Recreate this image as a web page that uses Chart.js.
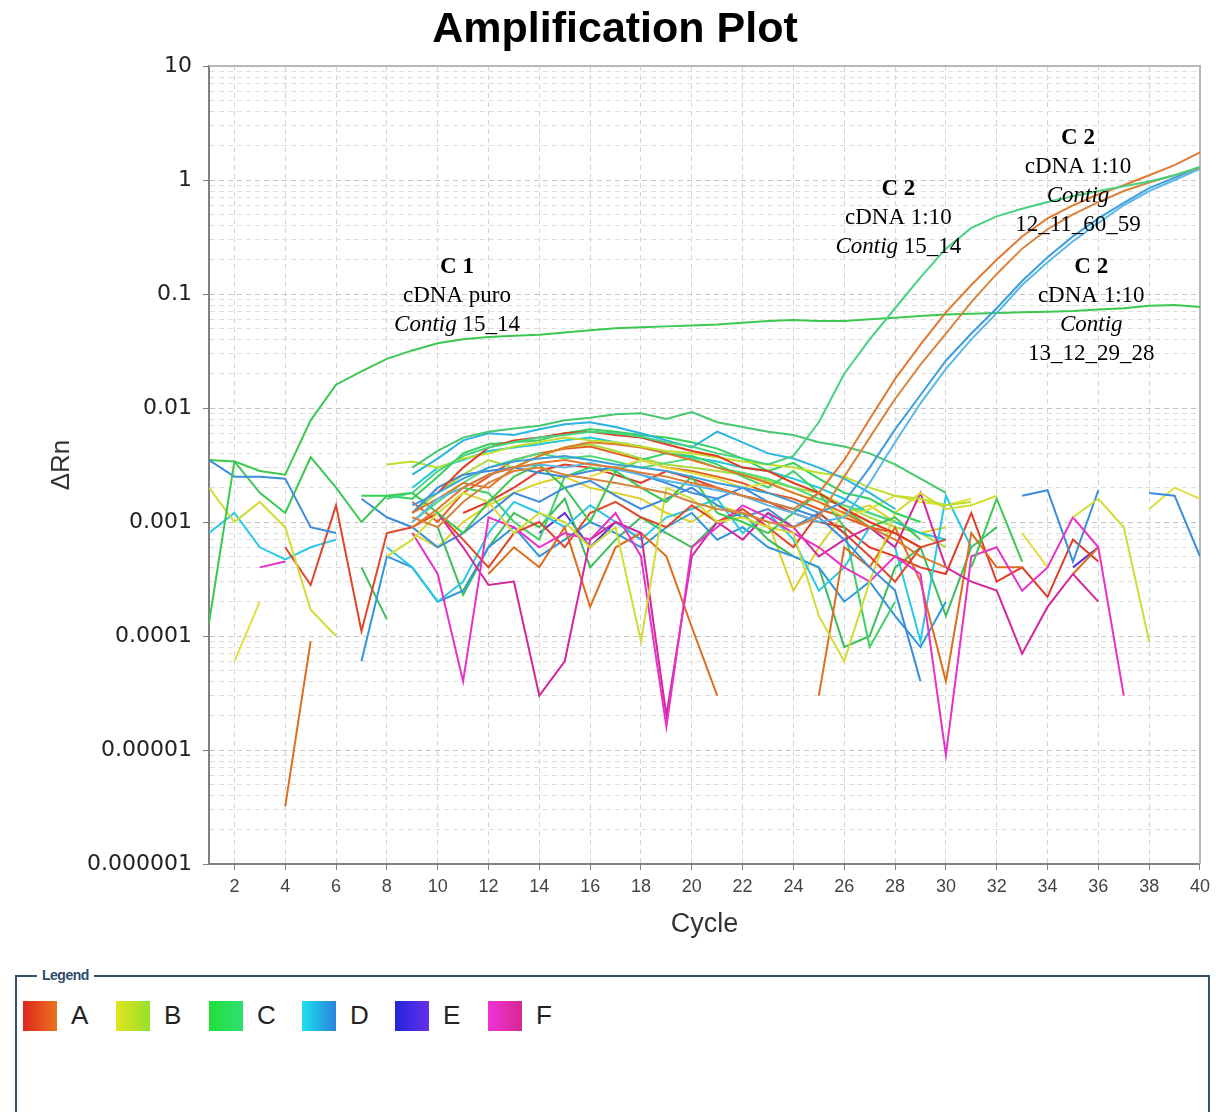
<!DOCTYPE html>
<html>
<head>
<meta charset="utf-8">
<script src="https://cdn.jsdelivr.net/npm/chart.js@4.4.1/dist/chart.umd.min.js"></script>
<style>
  body { margin: 0; background: #fff; width: 1216px; height: 1112px; position: relative; overflow: hidden; }
  #wrap { position: absolute; left: 0; top: 0; width: 1216px; height: 960px; }
  #legendBox { position: absolute; left: 15px; top: 975px; width: 1195px; height: 200px;
    border: 2px solid #34506a; border-bottom: none; box-sizing: border-box; }
  #legendBox .ttl { position: absolute; left: 20px; top: -10px; background: #fff; padding: 0 5px;
    font: bold 14px "Liberation Sans", Arial, sans-serif; color: #2c4c6c; letter-spacing: -0.5px; }
  .item { position: absolute; top: 24px; height: 30px; }
  .sw { position: absolute; left: 0; top: 0; width: 34px; height: 30px; }
  .lb { position: absolute; left: 48px; top: -1px; font: 26px "Liberation Sans", Arial, sans-serif; color: #222; }
</style>
</head>
<body>
<div id="wrap"><canvas id="myChart"></canvas></div>
<div id="legendBox"><span class="ttl">Legend</span></div>
<script>
const n = null;
const cycles = [1, 2, 3, 4, 5, 6, 7, 8, 9, 10, 11, 12, 13, 14, 15, 16, 17, 18, 19, 20,
  21, 22, 23, 24, 25, 26, 27, 28, 29, 30, 31, 32, 33, 34, 35, 36, 37, 38, 39, 40];
const xTicks = [2, 4, 6, 8, 10, 12, 14, 16, 18, 20, 22, 24, 26, 28, 30, 32, 34, 36, 38, 40];
const yTickValues = [0.000001, 0.00001, 0.0001, 0.001, 0.01, 0.1, 1, 10];
const yTickLabels = ['0.000001', '0.00001', '0.0001', '0.001', '0.01', '0.1', '1', '10'];
const groups = ['A', 'B', 'C', 'D', 'E', 'F'];

// amplified wells
const c1Puro = [
  0.00013, 0.0034, 0.0028, 0.0026, 0.0078, 0.016, 0.021, 0.027, 0.032, 0.037,
  0.040, 0.042, 0.043, 0.044, 0.046, 0.048, 0.050, 0.051, 0.052, 0.053,
  0.054, 0.056, 0.058, 0.059, 0.058, 0.058, 0.060, 0.062, 0.064, 0.066,
  0.067, 0.068, 0.069, 0.070, 0.071, 0.073, 0.075, 0.079, 0.080, 0.077];
const c2Contig1514 = [
  n, n, n, n, n, n, n, 0.0016, 0.0018, 0.0028,
  0.0038, 0.0045, 0.0050, 0.0055, 0.0058, 0.0062, 0.0060, 0.0056, 0.0050, 0.0046,
  0.0040, 0.0036, 0.0032, 0.0038, 0.0075, 0.020, 0.040, 0.075, 0.14, 0.25,
  0.38, 0.48, 0.56, 0.64, 0.72, 0.80, 0.88, 0.97, 1.10, 1.30];
const c2Contig1211a = [
  n, n, n, n, n, n, n, n, 0.0009, 0.0013,
  0.0020, 0.0026, 0.0030, 0.0033, 0.0035, 0.0032, 0.0030, 0.0027, 0.0025, 0.0022,
  0.0020, 0.0017, 0.0015, 0.0013, 0.0018, 0.0035, 0.0080, 0.018, 0.036, 0.069,
  0.12, 0.20, 0.32, 0.46, 0.60, 0.75, 0.90, 1.10, 1.35, 1.75];
const c2Contig1211b = [
  n, n, n, n, n, n, n, n, 0.0011, 0.0009,
  0.0015, 0.0022, 0.0028, 0.0030, 0.0026, 0.0024, 0.0022, 0.0020, 0.0018, 0.0015,
  0.0013, 0.0012, 0.0010, 0.0009, 0.0011, 0.0025, 0.0055, 0.012, 0.024, 0.045,
  0.085, 0.15, 0.25, 0.37, 0.50, 0.64, 0.80, 0.95, 1.10, 1.28];
const c2Contig1312a = [
  n, n, n, n, n, n, n, n, 0.0014, 0.0018,
  0.0024, 0.0030, 0.0034, 0.0036, 0.0038, 0.0035, 0.0032, 0.0030, 0.0028, 0.0025,
  0.0022, 0.0020, 0.0018, 0.0015, 0.0012, 0.0015, 0.0030, 0.0065, 0.013, 0.026,
  0.045, 0.075, 0.13, 0.21, 0.32, 0.46, 0.63, 0.85, 1.05, 1.30];
const c2Contig1312b = [
  n, n, n, n, n, n, n, n, 0.0010, 0.0016,
  0.0020, 0.0026, 0.0030, 0.0032, 0.0030, 0.0033, 0.0029, 0.0026, 0.0023, 0.0021,
  0.0019, 0.0017, 0.0014, 0.0012, 0.0010, 0.0011, 0.0022, 0.0050, 0.011, 0.022,
  0.040, 0.068, 0.12, 0.19, 0.29, 0.42, 0.60, 0.80, 1.00, 1.25];

// background wells (no amplification), gaps = values <= 0
const wellC1 = [
  n, n, n, n, n, n, n, n, 0.0030, 0.0042,
  0.0055, 0.0062, 0.0066, 0.0070, 0.0078, 0.0082, 0.0088, 0.0090, 0.0080, 0.0092,
  0.0075, 0.0068, 0.0062, 0.0058, 0.0050, 0.0046, 0.0040, 0.0032, 0.0024, 0.0018,
  n, n, n, n, n, n, n, n, n, n];
const wellD1 = [
  n, n, n, n, n, n, n, n, 0.0026, 0.0036,
  0.0052, 0.0060, 0.0058, 0.0065, 0.0072, 0.0075, 0.0068, 0.0060, 0.0052, 0.0045,
  0.0062, 0.0050, 0.0040, 0.0036, 0.0030, 0.0024, 0.0018, 0.0013, n, n,
  n, n, n, n, n, n, n, n, n, n];
const wellA1 = [
  n, n, n, n, n, n, n, n, n, 0.0018,
  0.0030, 0.0045, 0.0052, 0.0055, 0.0060, 0.0062, 0.0058, 0.0055, 0.0048, 0.0042,
  0.0038, 0.0030, 0.0028, 0.0022, 0.0018, 0.0013, 0.0010, 0.0008, 0.0006, n,
  n, n, n, n, n, n, n, n, n, n];
const wellB1 = [
  n, n, n, n, n, n, n, 0.0032, 0.0034, 0.0030,
  0.0036, 0.0040, 0.0046, 0.0050, 0.0055, 0.0052, 0.0050, 0.0046, 0.0042, 0.0040,
  0.0037, 0.0034, 0.0032, 0.0030, 0.0027, 0.0025, 0.0020, 0.0017, 0.0016, 0.0014,
  0.0015, n, n, n, n, n, n, n, n, n];
const wellC2 = [
  n, n, n, n, n, n, 0.0017, 0.0017, 0.0016, 0.0025,
  0.0040, 0.0048, 0.0050, 0.0052, 0.0060, 0.0065, 0.0062, 0.0058, 0.0055, 0.0050,
  0.0044, 0.0036, 0.0028, 0.0033, 0.0024, 0.0018, 0.0016, 0.0012, 0.0010, n,
  n, n, n, n, n, n, n, n, n, n];
const wellA2 = [
  n, n, n, n, n, n, n, n, 0.0012, 0.0016,
  0.0022, 0.0020, 0.0030, 0.0038, 0.0045, 0.0050, 0.0048, 0.0045, 0.0040, 0.0035,
  0.0030, 0.0026, 0.0022, 0.0018, 0.0015, 0.0012, 0.0009, 0.0007, 0.0005, 0.0004,
  n, n, n, n, n, n, n, n, n, n];
const wellD2 = [
  0.0035, 0.0025, 0.0025, 0.0024, 0.0009, 0.0008, n, n, 0.0012, 0.0020,
  0.0026, 0.0028, 0.0030, 0.0027, 0.0025, 0.0028, 0.0030, 0.0026, 0.0022, 0.0018,
  0.0016, 0.0020, 0.0015, 0.0013, 0.0011, 0.0007, 0.0004, 0.00025, 0.00004, n,
  n, n, n, n, n, n, n, n, n, n];
const wellC3 = [
  0.0035, 0.0034, 0.0018, 0.0012, 0.0037, 0.0020, 0.0010, 0.0017, 0.0018, 0.0012,
  0.0008, 0.0015, 0.0025, 0.0032, 0.0020, 0.0010, 0.0028, 0.0020, 0.0015, 0.0025,
  0.0012, 0.0010, 0.0008, 0.0012, 0.0018, 0.0013, 0.0009, 0.0011, 0.0007, n,
  0.0004, 0.0016, 0.00045, n, n, n, n, n, n, n];
const wellB2 = [
  0.0020, 0.0010, 0.0015, 0.0009, 0.00017, 0.0001, n, 0.0005, 0.0007, 0.0012,
  0.0018, 0.0015, 0.0008, 0.0012, 0.0010, 0.0006, 0.0009, 0.00009, 0.0020, 0.0016,
  0.0010, 0.0011, 0.0009, 0.0008, 0.00015, 0.00006, 0.0003, 0.0012, 0.0018, 0.0013,
  0.0014, 0.0017, n, n, 0.0011, 0.0016, 0.0009, 0.00009, n, n];
const wellF1 = [
  n, n, 0.0004, 0.00045, n, n, n, n, 0.0008, 0.00035,
  0.00004, 0.0011, 0.0009, 0.0006, 0.0008, 0.0007, 0.0012, 0.0005, 0.000016, 0.0006,
  0.0009, 0.0014, 0.0011, 0.0008, 0.0006, 0.0004, 0.0003, 0.0005, 0.00035, 0.000009,
  0.0005, 0.0006, 0.00025, 0.0004, 0.0011, 0.0006, 0.00003, n, n, n];
const wellF2 = [
  n, n, n, n, n, n, n, n, n, 0.0012,
  0.0006, 0.00028, 0.0003, 0.00003, 0.00006, 0.0007, 0.0010, 0.0008, 0.00002, 0.0005,
  0.0010, 0.0007, 0.0012, 0.0009, 0.0005, 0.0007, 0.0009, 0.0006, 0.0018, 0.0004,
  0.0003, 0.00025, 0.00007, 0.00018, 0.00035, 0.0002, n, n, n, n];
const wellA3 = [
  n, n, n, 0.0006, 0.00028, 0.0014, 0.00011, 0.0008, 0.0009, 0.0012,
  0.0007, 0.0004, 0.0008, 0.0010, 0.0006, 0.0012, 0.0015, 0.0011, 0.0009, 0.0014,
  0.0010, 0.0013, 0.0009, 0.0006, 0.0012, 0.0008, 0.0005, 0.0003, 0.0006, 0.0007,
  n, n, n, n, n, n, n, n, n, n];
const wellA4 = [
  n, n, n, 0.0000032, 0.00009, n, n, n, n, n,
  n, 0.00035, 0.0006, 0.0004, 0.0009, 0.00018, 0.0006, 0.0008, 0.0005, 0.00012,
  0.00003, n, n, n, 0.00003, 0.0006, 0.0004, 0.0009, 0.0003, 0.00004,
  0.0008, 0.0004, 0.0004, n, 0.00035, 0.0006, n, n, n, n];
const wellD3 = [
  0.0008, 0.0012, 0.0006, 0.00047, 0.0006, 0.0007, n, 0.0006, 0.0004, 0.0002,
  0.0003, 0.0008, 0.0015, 0.0012, 0.0009, 0.0014, 0.0010, 0.0007, 0.0011, 0.0013,
  0.0016, 0.0008, 0.0012, 0.0007, 0.00025, 0.0004, 0.0009, 0.0006, 0.00009, 0.0017,
  0.0006, n, n, n, n, n, n, n, n, n];
const wellD4 = [
  n, n, n, n, n, n, 0.0016, 0.0011, 0.0009, 0.0006,
  0.0008, 0.0012, 0.0018, 0.0015, 0.0020, 0.0023, 0.0017, 0.0013, 0.0016, 0.0020,
  0.0014, 0.0011, 0.0013, 0.0009, 0.0012, 0.0008, n, n, n, n,
  n, n, 0.0017, 0.0019, 0.00045, 0.0019, n, 0.0018, 0.0017, 0.0005];
const wellB3 = [
  n, 0.00006, 0.0002, n, n, n, n, n, n, n,
  n, n, n, n, n, 0.0025, 0.0030, 0.0035, 0.0030, 0.0027,
  0.0024, 0.0020, 0.0022, 0.0018, 0.0015, 0.0011, 0.0013, 0.0017, 0.0015, 0.0014,
  0.0016, n, 0.0008, 0.0004, n, n, n, 0.0013, 0.0020, 0.0016];
const wellC4 = [
  n, n, n, n, n, n, n, n, n, n,
  0.0020, 0.0018, 0.0010, 0.0007, 0.0025, 0.0030, 0.0028, 0.0035, 0.0040, 0.0038,
  0.0032, 0.0025, 0.0020, 0.0028, 0.0018, 0.0009, 0.00008, 0.0002, n, n,
  n, n, n, n, n, n, n, n, n, n];
const wellA5 = [
  n, n, n, n, n, n, n, n, n, n,
  0.0012, 0.0015, 0.0020, 0.0028, 0.0032, 0.0030, 0.0026, 0.0022, 0.0028, 0.0024,
  0.0020, 0.0017, 0.0015, 0.0012, 0.0010, 0.0009, 0.0006, 0.0005, 0.0004, 0.00035,
  0.0012, 0.0003, 0.0004, 0.00022, 0.0007, 0.00045, n, n, n, n];
const wellC5 = [
  n, n, n, n, n, n, n, n, 0.0010, 0.0015,
  0.0022, 0.0030, 0.0035, 0.0040, 0.0036, 0.0038, 0.0034, 0.0030, 0.0033, 0.0036,
  0.0030, 0.0027, 0.0024, 0.0020, 0.0016, 0.0014, 0.0012, 0.0010, n, n,
  n, n, n, n, n, n, n, n, n, n];
const wellD5 = [
  n, n, n, n, n, n, n, n, 0.0020, 0.0030,
  0.0035, 0.0042, 0.0045, 0.0048, 0.0052, 0.0055, 0.0050, 0.0046, 0.0040, 0.0037,
  0.0034, 0.0030, 0.0028, 0.0024, 0.0020, 0.0016, 0.0012, 0.0010, 0.0008, 0.0007,
  n, n, n, n, n, n, n, n, n, n];
const wellB4 = [
  n, n, n, n, n, n, n, n, 0.0012, 0.0018,
  0.0026, 0.0035, 0.0030, 0.0038, 0.0045, 0.0048, 0.0042, 0.0036, 0.0032, 0.0030,
  0.0028, 0.0026, 0.0023, 0.0020, 0.0018, 0.0014, 0.0011, 0.0009, 0.0008, 0.0006,
  n, n, n, n, n, n, n, n, n, n];
const wellA6 = [
  n, n, n, n, n, n, n, n, 0.0015, 0.0010,
  0.0018, 0.0025, 0.0035, 0.0040, 0.0044, 0.0046, 0.0040, 0.0035, 0.0030, 0.0028,
  0.0025, 0.0022, 0.0018, 0.0016, 0.0013, 0.0011, 0.0009, 0.0008, 0.0006, n,
  n, n, n, n, n, n, n, n, n, n];
const wellD6 = [
  n, n, n, n, n, n, 0.00006, 0.0005, 0.0004, 0.0002,
  0.00025, 0.0006, 0.0009, 0.0005, 0.0007, 0.0010, 0.0008, 0.0006, 0.0009, 0.0012,
  0.0007, 0.0009, 0.0006, 0.0005, 0.0004, 0.0002, 0.0003, 0.00015, 0.00008, 0.0002,
  n, n, n, n, n, n, n, n, n, n];
const wellC6 = [
  n, n, n, n, n, n, 0.0004, 0.00014, n, 0.0009,
  0.00023, 0.0006, 0.0012, 0.0009, 0.0016, 0.0004, 0.0007, 0.0011, 0.0008, 0.0006,
  0.0010, 0.0012, 0.0007, 0.0005, 0.0004, 0.00008, 0.0001, 0.0004, 0.0006, 0.00015,
  0.0006, 0.0009, n, n, n, n, n, n, n, n];
const wellE1 = [
  n, n, n, n, n, n, n, n, n, n,
  n, n, n, 0.0008, 0.0012, 0.0006, 0.0010, 0.0007, n, n,
  n, n, n, n, n, n, n, n, n, n,
  n, n, n, n, 0.0004, 0.0006, n, n, n, n];
const wellB5 = [
  n, n, n, n, n, n, n, n, 0.0008, 0.0006,
  0.0010, 0.0014, 0.0018, 0.0022, 0.0025, 0.0020, 0.0018, 0.0016, 0.0012, 0.0010,
  0.0014, 0.0012, 0.0010, 0.00025, 0.0006, 0.0012, 0.0014, 0.0010, 0.0008, 0.0009,
  n, n, n, n, n, n, n, n, n, n];

const series = [
  [c2Contig1514, '#46d282'],
  [c2Contig1211a, '#e07a32'],
  [c2Contig1211b, '#d8843c'],
  [c2Contig1312a, '#3c9edc'],
  [c2Contig1312b, '#5ab8e8'],
  [c1Puro, '#3cc850'],
  [wellC1, '#46c86e'], [wellD1, '#2ab4e0'], [wellA1, '#e23c20'], [wellB1, '#bede2a'],
  [wellC2, '#32d25a'], [wellA2, '#e0782a'], [wellD2, '#3c8cdc'], [wellC3, '#3cc850'],
  [wellB2, '#d2dc32'], [wellF1, '#e632c8'], [wellF2, '#d2289b'], [wellA3, '#e04628'],
  [wellA4, '#dc6e1e'], [wellD3, '#28c8e6'], [wellD4, '#3c8cdc'], [wellB3, '#e0e040'],
  [wellC4, '#3cd264'], [wellA5, '#e03c28'], [wellC5, '#50dc78'], [wellD5, '#1ec8dc'],
  [wellB4, '#a8dc3c'], [wellA6, '#e85a1e'], [wellD6, '#3296dc'], [wellC6, '#3cbe5a'],
  [wellE1, '#5a32dc'], [wellB5, '#dcd22a']
];

const legendColors = {
  A: ['#e0261c', '#e8741e'], B: ['#e2e41e', '#96e02c'], C: ['#22e03a', '#2ce070'],
  D: ['#1ee0f0', '#2a82d8'], E: ['#2424dc', '#6430ea'], F: ['#ec32d8', '#d82890']
};

// text notes, anchored at (cycle, ΔRn)
const notes = [
  { x: 10.76, y: 0.1725, lines: [['b', 'C 1'], ['r', 'cDNA puro'], ['i', 'Contig', ' 15_14']] },
  { x: 28.13, y: 0.834, lines: [['b', 'C 2'], ['r', 'cDNA 1:10'], ['i', 'Contig', ' 15_14']] },
  { x: 35.2, y: 2.34, lines: [['b', 'C 2'], ['r', 'cDNA 1:10'], ['i', 'Contig', ''], ['r', '12_11_60_59']] },
  { x: 35.72, y: 0.1725, lines: [['b', 'C 2'], ['r', 'cDNA 1:10'], ['i', 'Contig', ''], ['r', '13_12_29_28']] }
];

const serif = '"Liberation Serif", "Times New Roman", serif';
const notesPlugin = {
  id: 'notes',
  afterDatasetsDraw(chart) {
    const ctx = chart.ctx, xs = chart.scales.x, ys = chart.scales.y;
    ctx.save();
    ctx.fillStyle = '#000';
    ctx.textBaseline = 'middle';
    notes.forEach(nt => {
      const cx = xs.getPixelForValue(nt.x);
      let cy = ys.getPixelForValue(nt.y);
      nt.lines.forEach(l => {
        if (l[0] === 'i') {
          ctx.font = 'italic 23px ' + serif;
          const w1 = ctx.measureText(l[1]).width;
          ctx.font = '23px ' + serif;
          const w2 = ctx.measureText(l[2]).width;
          const x0 = cx - (w1 + w2) / 2;
          ctx.textAlign = 'left';
          ctx.font = 'italic 23px ' + serif;
          ctx.fillText(l[1], x0, cy);
          ctx.font = '23px ' + serif;
          ctx.fillText(l[2], x0 + w1, cy);
        } else {
          ctx.font = (l[0] === 'b' ? 'bold ' : '') + '23px ' + serif;
          ctx.textAlign = 'center';
          ctx.fillText(l[1], cx, cy);
        }
        cy += 29;
      });
    });
    ctx.restore();
  }
};

// box round the plot + page title
const framePlugin = {
  id: 'frame',
  beforeDatasetsDraw(chart) {
    const {ctx, chartArea: a} = chart;
    ctx.save();
    ctx.strokeStyle = '#b8b8b8';
    ctx.lineWidth = 2;
    ctx.beginPath();
    ctx.moveTo(a.left, a.top); ctx.lineTo(a.right, a.top); ctx.lineTo(a.right, a.bottom);
    ctx.stroke();
    ctx.restore();
  },
  afterDraw(chart) {
    const ctx = chart.ctx;
    ctx.save();
    ctx.fillStyle = '#000';
    ctx.font = 'bold 43px "Liberation Sans", Arial, sans-serif';
    ctx.textAlign = 'center';
    ctx.textBaseline = 'middle';
    ctx.fillText('Amplification Plot', 615, 30);
    ctx.restore();
  }
};

const isDecade = v => yTickValues.some(d => Math.abs(v / d - 1) < 1e-6);

new Chart(document.getElementById('myChart'), {
  type: 'line',
  data: {
    datasets: series.map(([vals, col]) => ({
      data: vals.map((v, i) => ({ x: cycles[i], y: v })),
      borderColor: col,
      borderWidth: 2,
      pointRadius: 0,
      tension: 0,
      spanGaps: false,
      fill: false
    }))
  },
  options: {
    responsive: true,
    maintainAspectRatio: false,
    animation: false,
    events: [],
    layout: { padding: { left: 0, right: 16, top: 66, bottom: 0 } },
    plugins: {
      legend: { display: false },
      tooltip: { enabled: false },
      title: { display: false }
    },
    scales: {
      x: {
        type: 'linear',
        min: 1,
        max: 40,
        afterBuildTicks: s => { s.ticks = xTicks.map(v => ({ value: v })); },
        afterFit: s => { s.height = 96; },
        ticks: {
          color: '#444',
          padding: 6,
          maxRotation: 0,
          font: { family: '"Liberation Sans", Arial, sans-serif', size: 18 }
        },
        grid: { color: '#d4d4d4', tickColor: '#808080', tickLength: 6 },
        border: { color: '#808080', width: 2, dash: [5, 4] },
        title: {
          display: true,
          text: 'Cycle',
          color: '#333',
          font: { family: '"Liberation Sans", Arial, sans-serif', size: 27 },
          padding: { top: 0, bottom: 19 }
        }
      },
      y: {
        type: 'logarithmic',
        min: 0.000001,
        max: 10,
        afterBuildTicks: s => {
          const t = [];
          yTickValues.forEach((d, i) => {
            if (i === yTickValues.length - 1) { t.push({ value: d }); return; }
            for (let k = 1; k <= 9; k++) t.push({ value: k * d });
          });
          s.ticks = t;
        },
        afterFit: s => { s.width = 209; },
        ticks: {
          color: '#222',
          padding: 11,
          autoSkip: false,
          font: { family: '"DejaVu Sans", sans-serif', size: 22 },
          callback: v => {
            const i = yTickValues.findIndex(d => Math.abs(v / d - 1) < 1e-6);
            return i >= 0 ? yTickLabels[i] : '';
          }
        },
        grid: {
          color: c => isDecade(c.tick.value) ? '#c4c4c4' : '#dedede',
          tickColor: c => isDecade(c.tick.value) ? '#808080' : 'rgba(0,0,0,0)',
          tickLength: 6
        },
        border: { color: '#808080', width: 2, dash: [5, 4] },
        title: {
          display: true,
          text: 'ΔRn',
          color: '#333',
          font: { family: '"Liberation Sans", Arial, sans-serif', size: 26 },
          padding: { top: 46, bottom: 0 }
        }
      }
    }
  },
  plugins: [framePlugin, notesPlugin]
});

// group legend
const box = document.getElementById('legendBox');
groups.forEach((g, i) => {
  const it = document.createElement('div');
  it.className = 'item';
  it.style.left = (6 + i * 93) + 'px';
  const sw = document.createElement('div');
  sw.className = 'sw';
  sw.style.background = 'linear-gradient(to right, ' + legendColors[g][0] + ', ' + legendColors[g][1] + ')';
  const lb = document.createElement('span');
  lb.className = 'lb';
  lb.textContent = g;
  it.appendChild(sw);
  it.appendChild(lb);
  box.appendChild(it);
});
</script>
</body>
</html>
